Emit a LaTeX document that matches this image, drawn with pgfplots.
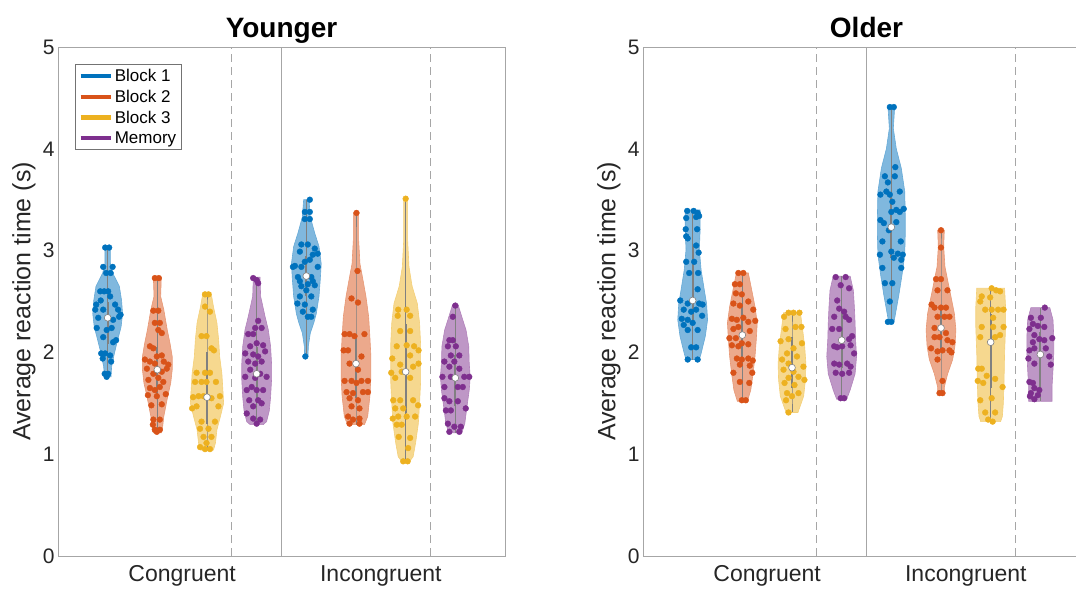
\documentclass[border=0pt]{standalone}
\usepackage{fontspec}
\setmainfont{Liberation Sans}
\usepackage{pgfplots}
\usepackage{pgfplotstable}
\pgfplotsset{compat=1.18}

\definecolor{bOne}{HTML}{0072BD}
\definecolor{bTwo}{HTML}{D95319}
\definecolor{bThree}{HTML}{EDB120}
\definecolor{bMem}{HTML}{7E2F8E}
\definecolor{boxGray}{HTML}{808080}
\definecolor{axGray}{HTML}{A6A6A6}
\definecolor{txt}{HTML}{262626}

% ---------- violin outlines (y, half width) and jittered points (dx, y) ----------
% Younger, congruent
\pgfplotstableread[row sep=\\]{y w\\ 3.04 0\\ 3.04 0.054\\ 2.875 0.054\\ 2.78 0.10\\ 2.65 0.235\\ 2.51 0.28\\ 2.38 0.30\\ 2.25 0.27\\ 2.12 0.20\\ 1.99 0.135\\ 1.86 0.08\\ 1.76 0.067\\ 1.76 0\\}\yconAs
\pgfplotstableread[row sep=\\]{d y\\ -0.05 3.03\\ 0.03 3.03\\ -0.09 2.84\\ 0.10 2.84\\ -0.03 2.78\\ 0.06 2.78\\ -0.15 2.60\\ -0.07 2.60\\ 0.01 2.60\\ -0.23 2.47\\ -0.14 2.51\\ 0.05 2.55\\ 0.15 2.47\\ 0.21 2.42\\ 0.26 2.37\\ -0.25 2.42\\ -0.09 2.42\\ -0.19 2.34\\ 0.11 2.32\\ 0.23 2.35\\ -0.22 2.24\\ 0.08 2.24\\ -0.02 2.22\\ -0.09 2.15\\ 0.11 2.10\\ 0.17 2.12\\ -0.13 1.99\\ -0.05 1.99\\ 0.05 1.97\\ -0.10 1.94\\ 0.07 1.91\\ -0.06 1.79\\ 0.01 1.79\\ -0.02 1.76\\}\yconAp
\pgfplotstableread[row sep=\\]{y w\\ 2.74 0\\ 2.74 0.08\\ 2.55 0.067\\ 2.42 0.13\\ 2.22 0.20\\ 2.09 0.255\\ 1.96 0.30\\ 1.83 0.30\\ 1.70 0.27\\ 1.57 0.21\\ 1.37 0.13\\ 1.24 0.10\\ 1.21 0.08\\ 1.21 0\\}\yconBs
\pgfplotstableread[row sep=\\]{d y\\ -0.05 2.73\\ 0.03 2.73\\ -0.08 2.41\\ 0.02 2.41\\ -0.05 2.29\\ 0.05 2.29\\ 0.02 2.22\\ 0.09 2.19\\ -0.15 2.06\\ -0.08 2.04\\ 0.09 1.97\\ -0.01 1.96\\ -0.25 1.93\\ -0.15 1.91\\ -0.05 1.89\\ 0.13 1.91\\ 0.22 1.88\\ -0.21 1.84\\ -0.08 1.79\\ 0.09 1.81\\ 0.19 1.84\\ -0.18 1.73\\ 0.02 1.75\\ 0.12 1.71\\ -0.15 1.65\\ -0.05 1.63\\ 0.05 1.66\\ 0.17 1.59\\ -0.19 1.58\\ -0.01 1.57\\ -0.12 1.48\\ 0.09 1.49\\ -0.08 1.34\\ 0.05 1.34\\ -0.09 1.29\\ -0.05 1.24\\ 0.05 1.24\\ -0.01 1.22\\}\yconBp
\pgfplotstableread[row sep=\\]{y w\\ 2.59 0\\ 2.59 0.08\\ 2.45 0.13\\ 2.29 0.20\\ 2.12 0.235\\ 1.96 0.255\\ 1.79 0.30\\ 1.63 0.32\\ 1.50 0.335\\ 1.37 0.27\\ 1.24 0.20\\ 1.11 0.17\\ 1.04 0.13\\ 1.04 0\\}\yconCs
\pgfplotstableread[row sep=\\]{d y\\ -0.04 2.57\\ 0.03 2.57\\ -0.04 2.45\\ 0.06 2.40\\ -0.11 2.16\\ -0.01 2.16\\ 0.09 2.04\\ 0.14 2.02\\ -0.21 1.80\\ -0.04 1.80\\ 0.06 1.80\\ -0.24 1.71\\ -0.11 1.71\\ -0.01 1.71\\ 0.18 1.71\\ -0.17 1.57\\ -0.07 1.57\\ -0.28 1.56\\ 0.09 1.55\\ 0.26 1.57\\ -0.30 1.45\\ -0.21 1.47\\ 0.23 1.47\\ -0.11 1.32\\ 0.16 1.32\\ -0.14 1.25\\ 0.03 1.25\\ -0.07 1.17\\ 0.09 1.17\\ -0.01 1.11\\ -0.14 1.07\\ -0.04 1.05\\ 0.06 1.05\\}\yconCp
\pgfplotstableread[row sep=\\]{y w\\ 2.74 0\\ 2.74 0.067\\ 2.55 0.08\\ 2.35 0.17\\ 2.22 0.235\\ 2.06 0.28\\ 1.89 0.30\\ 1.73 0.30\\ 1.56 0.28\\ 1.43 0.255\\ 1.32 0.20\\ 1.29 0.13\\ 1.29 0\\}\yconMs
\pgfplotstableread[row sep=\\]{d y\\ -0.07 2.73\\ 0.00 2.71\\ 0.03 2.68\\ 0.03 2.31\\ -0.03 2.24\\ 0.10 2.24\\ -0.17 2.18\\ -0.07 2.18\\ 0.00 2.09\\ 0.13 2.07\\ -0.13 2.06\\ -0.23 1.99\\ -0.07 1.98\\ 0.03 1.96\\ 0.17 2.01\\ -0.17 1.91\\ -0.03 1.89\\ 0.10 1.91\\ -0.13 1.83\\ -0.23 1.76\\ -0.03 1.75\\ 0.07 1.79\\ 0.20 1.76\\ -0.10 1.66\\ -0.20 1.63\\ 0.00 1.63\\ 0.13 1.63\\ -0.15 1.53\\ 0.03 1.53\\ 0.10 1.50\\ -0.07 1.47\\ -0.20 1.40\\ -0.07 1.35\\ 0.07 1.34\\ 0.00 1.30\\}\yconMp
% Younger, incongruent
\pgfplotstableread[row sep=\\]{y w\\ 3.50 0\\ 3.50 0.054\\ 3.33 0.08\\ 3.17 0.17\\ 3.04 0.255\\ 2.87 0.30\\ 2.71 0.28\\ 2.55 0.255\\ 2.38 0.20\\ 2.29 0.15\\ 2.19 0.08\\ 2.06 0.04\\ 1.96 0.034\\ 1.96 0\\}\yincAs
\pgfplotstableread[row sep=\\]{d y\\ 0.07 3.50\\ -0.03 3.38\\ 0.07 3.38\\ -0.03 3.31\\ 0.07 3.31\\ -0.10 3.06\\ 0.03 3.06\\ 0.17 3.02\\ -0.13 2.99\\ 0.13 2.96\\ 0.23 2.97\\ 0.07 2.91\\ -0.03 2.89\\ -0.23 2.85\\ -0.10 2.84\\ 0.23 2.84\\ -0.27 2.84\\ -0.17 2.74\\ 0.10 2.74\\ -0.13 2.70\\ 0.03 2.67\\ 0.13 2.70\\ 0.17 2.66\\ -0.10 2.65\\ 0.00 2.61\\ -0.13 2.55\\ 0.10 2.55\\ -0.18 2.48\\ -0.03 2.47\\ 0.13 2.42\\ -0.07 2.40\\ 0.03 2.35\\ 0.10 2.35\\ -0.02 1.96\\}\yincAp
\pgfplotstableread[row sep=\\]{y w\\ 3.37 0\\ 3.37 0.054\\ 3.10 0.054\\ 2.87 0.08\\ 2.74 0.13\\ 2.55 0.20\\ 2.35 0.255\\ 2.15 0.28\\ 1.96 0.30\\ 1.76 0.30\\ 1.57 0.28\\ 1.37 0.235\\ 1.29 0.17\\ 1.29 0\\}\yincBs
\pgfplotstableread[row sep=\\]{d y\\ 0.01 3.37\\ 0.03 2.80\\ -0.09 2.53\\ 0.04 2.49\\ -0.23 2.18\\ -0.13 2.18\\ -0.03 2.16\\ 0.17 2.18\\ -0.25 2.02\\ -0.16 2.02\\ 0.11 1.96\\ -0.13 1.89\\ 0.04 1.83\\ -0.23 1.72\\ -0.09 1.72\\ 0.11 1.72\\ 0.24 1.72\\ 0.01 1.70\\ -0.19 1.61\\ 0.14 1.61\\ 0.24 1.61\\ -0.06 1.60\\ -0.13 1.55\\ 0.04 1.53\\ -0.09 1.47\\ 0.07 1.45\\ -0.16 1.37\\ -0.06 1.34\\ 0.07 1.35\\ -0.13 1.30\\ 0.07 1.30\\}\yincBp
\pgfplotstableread[row sep=\\]{y w\\ 3.51 0\\ 3.51 0.04\\ 3.10 0.04\\ 2.84 0.067\\ 2.65 0.13\\ 2.48 0.235\\ 2.29 0.28\\ 2.09 0.30\\ 1.89 0.30\\ 1.70 0.30\\ 1.50 0.28\\ 1.30 0.255\\ 1.11 0.20\\ 0.975 0.15\\ 0.93 0.08\\ 0.93 0\\}\yincCs
\pgfplotstableread[row sep=\\]{d y\\ 0.00 3.51\\ -0.15 2.42\\ 0.02 2.42\\ 0.09 2.36\\ -0.16 2.36\\ 0.09 2.21\\ -0.11 2.21\\ -0.18 2.06\\ 0.02 2.07\\ 0.17 2.06\\ 0.26 2.02\\ 0.09 1.97\\ -0.27 1.94\\ -0.11 1.88\\ 0.26 1.89\\ -0.29 1.80\\ -0.08 1.81\\ 0.15 1.86\\ -0.21 1.75\\ 0.09 1.75\\ -0.25 1.53\\ -0.11 1.53\\ 0.15 1.53\\ 0.25 1.48\\ -0.21 1.45\\ -0.05 1.45\\ -0.15 1.37\\ -0.26 1.35\\ 0.02 1.37\\ 0.19 1.37\\ -0.18 1.29\\ -0.08 1.29\\ -0.14 1.17\\ 0.09 1.16\\ 0.05 1.06\\ -0.05 0.93\\ 0.04 0.93\\}\yincCp
\pgfplotstableread[row sep=\\]{y w\\ 2.47 0\\ 2.47 0.054\\ 2.35 0.13\\ 2.22 0.215\\ 2.06 0.27\\ 1.89 0.28\\ 1.76 0.30\\ 1.63 0.28\\ 1.47 0.235\\ 1.30 0.19\\ 1.21 0.13\\ 1.21 0\\}\yincMs
\pgfplotstableread[row sep=\\]{d y\\ 0.00 2.46\\ -0.05 2.35\\ -0.12 2.12\\ -0.05 2.12\\ -0.15 2.06\\ 0.01 2.06\\ -0.09 1.97\\ 0.08 1.97\\ -0.22 1.91\\ -0.02 1.91\\ -0.12 1.86\\ 0.08 1.84\\ -0.26 1.76\\ -0.09 1.76\\ 0.18 1.76\\ 0.28 1.76\\ -0.22 1.66\\ 0.05 1.66\\ 0.15 1.66\\ -0.22 1.55\\ -0.12 1.52\\ 0.05 1.52\\ -0.19 1.43\\ -0.09 1.43\\ 0.21 1.45\\ -0.15 1.30\\ -0.02 1.27\\ 0.11 1.27\\ -0.12 1.22\\ 0.08 1.22\\}\yincMp
% Older, congruent
\pgfplotstableread[row sep=\\]{y w\\ 3.40 0\\ 3.40 0.15\\ 3.20 0.15\\ 3.01 0.134\\ 2.81 0.17\\ 2.61 0.235\\ 2.48 0.28\\ 2.32 0.30\\ 2.16 0.255\\ 1.99 0.17\\ 1.93 0.134\\ 1.93 0\\}\oconAs
\pgfplotstableread[row sep=\\]{d y\\ -0.11 3.39\\ 0.02 3.39\\ 0.10 3.37\\ 0.13 3.34\\ -0.13 3.32\\ 0.07 3.33\\ -0.14 3.21\\ 0.09 3.21\\ -0.13 3.14\\ -0.10 3.12\\ 0.07 3.05\\ 0.12 2.98\\ -0.13 2.89\\ 0.03 2.89\\ -0.07 2.78\\ 0.11 2.78\\ 0.10 2.62\\ -0.25 2.51\\ -0.10 2.48\\ 0.13 2.48\\ 0.20 2.47\\ -0.18 2.42\\ -0.03 2.40\\ 0.07 2.42\\ -0.22 2.33\\ -0.10 2.32\\ 0.19 2.36\\ -0.18 2.27\\ 0.00 2.29\\ -0.10 2.22\\ 0.10 2.22\\ -0.03 2.05\\ 0.07 2.05\\ -0.10 1.93\\ 0.10 1.93\\}\oconAp
\pgfplotstableread[row sep=\\]{y w\\ 2.78 0\\ 2.78 0.12\\ 2.61 0.19\\ 2.45 0.255\\ 2.29 0.30\\ 2.12 0.28\\ 1.96 0.255\\ 1.79 0.215\\ 1.63 0.17\\ 1.52 0.10\\ 1.52 0\\}\oconBs
\pgfplotstableread[row sep=\\]{d y\\ -0.08 2.78\\ 0.02 2.78\\ -0.15 2.67\\ -0.05 2.67\\ -0.13 2.58\\ -0.01 2.57\\ 0.12 2.50\\ -0.18 2.48\\ -0.05 2.46\\ 0.22 2.42\\ -0.21 2.33\\ -0.11 2.32\\ 0.02 2.34\\ 0.12 2.30\\ 0.26 2.31\\ -0.18 2.23\\ -0.08 2.25\\ 0.15 2.21\\ -0.26 2.14\\ -0.13 2.14\\ -0.01 2.09\\ -0.21 2.07\\ -0.08 2.06\\ 0.12 2.08\\ -0.11 1.94\\ -0.01 1.93\\ 0.12 1.94\\ 0.21 1.92\\ -0.05 1.88\\ 0.15 1.87\\ -0.18 1.80\\ 0.20 1.80\\ -0.05 1.71\\ 0.14 1.70\\ -0.01 1.53\\ 0.07 1.53\\}\oconBp
\pgfplotstableread[row sep=\\]{y w\\ 2.39 0\\ 2.39 0.17\\ 2.22 0.215\\ 2.06 0.255\\ 1.89 0.28\\ 1.73 0.27\\ 1.57 0.235\\ 1.41 0.12\\ 1.41 0\\}\oconCs
\pgfplotstableread[row sep=\\]{d y\\ -0.07 2.39\\ 0.03 2.39\\ 0.15 2.39\\ -0.16 2.35\\ 0.19 2.25\\ 0.07 2.25\\ -0.13 2.23\\ -0.23 2.11\\ -0.07 2.13\\ 0.20 2.09\\ 0.03 2.04\\ -0.10 1.99\\ 0.10 1.96\\ -0.20 1.93\\ -0.07 1.89\\ 0.23 1.86\\ -0.17 1.83\\ 0.03 1.81\\ 0.13 1.76\\ -0.07 1.75\\ 0.25 1.73\\ -0.15 1.70\\ 0.05 1.68\\ 0.13 1.60\\ -0.10 1.60\\ 0.00 1.57\\ -0.12 1.53\\ -0.07 1.41\\}\oconCp
\pgfplotstableread[row sep=\\]{y w\\ 2.75 0\\ 2.75 0.17\\ 2.61 0.235\\ 2.45 0.255\\ 2.29 0.27\\ 2.12 0.28\\ 1.96 0.30\\ 1.79 0.27\\ 1.63 0.17\\ 1.54 0.10\\ 1.54 0\\}\oconMs
\pgfplotstableread[row sep=\\]{d y\\ -0.12 2.74\\ 0.08 2.74\\ -0.02 2.66\\ 0.15 2.63\\ -0.09 2.51\\ -0.05 2.43\\ 0.05 2.40\\ -0.15 2.35\\ 0.08 2.35\\ 0.15 2.32\\ -0.19 2.23\\ -0.05 2.23\\ 0.21 2.16\\ 0.15 2.13\\ -0.15 2.06\\ -0.09 2.05\\ 0.01 2.06\\ 0.18 2.07\\ 0.25 1.99\\ -0.15 1.89\\ -0.05 1.88\\ 0.11 1.89\\ 0.18 1.86\\ -0.12 1.80\\ 0.01 1.79\\ 0.15 1.80\\ -0.02 1.55\\ 0.05 1.55\\}\oconMp
% Older, incongruent
\pgfplotstableread[row sep=\\]{y w\\ 4.41 0\\ 4.41 0.067\\ 4.20 0.04\\ 4.00 0.10\\ 3.81 0.20\\ 3.58 0.27\\ 3.35 0.28\\ 3.15 0.28\\ 2.96 0.27\\ 2.76 0.215\\ 2.56 0.15\\ 2.37 0.08\\ 2.30 0.054\\ 2.30 0\\}\oincAs
\pgfplotstableread[row sep=\\]{d y\\ -0.03 4.41\\ 0.05 4.41\\ 0.08 3.82\\ -0.13 3.73\\ 0.07 3.73\\ -0.07 3.67\\ -0.22 3.55\\ -0.10 3.58\\ -0.03 3.55\\ 0.17 3.58\\ 0.02 3.48\\ 0.00 3.38\\ 0.10 3.40\\ 0.17 3.38\\ 0.25 3.41\\ -0.22 3.30\\ -0.15 3.27\\ -0.05 3.20\\ 0.10 3.28\\ -0.18 3.09\\ 0.19 3.09\\ -0.23 2.96\\ 0.00 2.99\\ 0.13 2.97\\ 0.23 2.96\\ 0.05 2.93\\ 0.20 2.91\\ -0.18 2.83\\ 0.20 2.83\\ -0.13 2.68\\ 0.02 2.68\\ -0.03 2.50\\ -0.07 2.30\\ 0.00 2.30\\}\oincAp
\pgfplotstableread[row sep=\\]{y w\\ 3.20 0\\ 3.20 0.067\\ 3.04 0.054\\ 2.84 0.08\\ 2.71 0.134\\ 2.55 0.20\\ 2.38 0.27\\ 2.22 0.30\\ 2.06 0.28\\ 1.93 0.235\\ 1.79 0.134\\ 1.66 0.067\\ 1.60 0.067\\ 1.60 0\\}\oincBs
\pgfplotstableread[row sep=\\]{d y\\ 0.00 3.20\\ 0.00 3.03\\ -0.10 2.72\\ 0.00 2.72\\ -0.07 2.61\\ 0.13 2.61\\ -0.19 2.47\\ -0.13 2.44\\ 0.00 2.44\\ 0.10 2.44\\ -0.07 2.35\\ 0.07 2.35\\ 0.17 2.35\\ -0.13 2.24\\ 0.10 2.19\\ -0.13 2.15\\ -0.03 2.15\\ 0.13 2.12\\ 0.23 2.10\\ -0.20 2.04\\ -0.07 2.01\\ 0.03 2.02\\ 0.17 2.02\\ -0.07 1.93\\ 0.21 2.00\\ 0.03 1.72\\ -0.03 1.60\\ 0.03 1.60\\}\oincBp
\pgfplotstableread[row sep=\\]{y w\\ 2.63 0\\ 2.63 0.28\\ 2.45 0.30\\ 2.25 0.30\\ 1.99 0.28\\ 1.73 0.27\\ 1.50 0.255\\ 1.37 0.235\\ 1.32 0.20\\ 1.32 0\\}\oincCs
\pgfplotstableread[row sep=\\]{d y\\ 0.02 2.63\\ 0.11 2.61\\ -0.18 2.55\\ -0.01 2.54\\ 0.19 2.60\\ -0.21 2.50\\ -0.11 2.42\\ 0.02 2.42\\ 0.15 2.42\\ 0.26 2.42\\ 0.05 2.34\\ 0.26 2.25\\ -0.18 2.25\\ 0.05 2.25\\ 0.19 2.17\\ -0.21 2.15\\ 0.09 2.15\\ -0.18 1.84\\ -0.25 1.84\\ -0.08 1.77\\ 0.09 1.74\\ -0.26 1.72\\ -0.15 1.70\\ 0.24 1.66\\ -0.21 1.53\\ 0.02 1.55\\ -0.11 1.41\\ 0.09 1.41\\ -0.05 1.34\\ 0.04 1.32\\}\oincCp
\pgfplotstableread[row sep=\\]{y w\\ 2.44 0\\ 2.44 0.19\\ 2.32 0.255\\ 2.16 0.27\\ 1.99 0.27\\ 1.83 0.255\\ 1.66 0.235\\ 1.52 0.235\\ 1.52 0\\}\oincMs
\pgfplotstableread[row sep=\\]{d y\\ 0.09 2.44\\ -0.19 2.34\\ 0.01 2.34\\ -0.15 2.28\\ -0.05 2.26\\ 0.08 2.25\\ -0.22 2.23\\ -0.12 2.17\\ -0.02 2.13\\ -0.15 2.10\\ 0.08 2.12\\ 0.24 2.14\\ -0.22 2.02\\ -0.12 2.04\\ 0.11 2.04\\ -0.24 1.94\\ 0.18 1.96\\ -0.12 1.89\\ 0.21 1.88\\ -0.22 1.71\\ -0.15 1.70\\ -0.12 1.65\\ -0.02 1.63\\ -0.19 1.60\\ -0.21 1.57\\ -0.12 1.54\\ -0.05 1.58\\}\oincMp

% #1 position, #2 colour, #3 outline, #4 points, #5 median, #6 q1, #7 q3
\newcommand{\violin}[7]{%
  \addplot[forget plot, draw=#2!60!white, line width=0.6pt, fill=#2!50!white]
    table[x expr=#1+\thisrow{w}, y=y] {#3};
  \addplot[forget plot, draw=#2!60!white, line width=0.6pt, fill=#2!50!white]
    table[x expr=#1-\thisrow{w}, y=y] {#3};
  \addplot[forget plot, only marks, mark=*, mark size=2.9pt,
    mark options={draw=#2, fill=#2}]
    table[x expr=#1+\thisrow{d}, y=y] {#4};
  \addplot[forget plot, draw=boxGray, line width=0.8pt] table[x expr=#1, y=y] {#3};
  \addplot[forget plot, draw=boxGray, line width=2.2pt] coordinates {(#1,#6) (#1,#7)};
  \addplot[forget plot, only marks, mark=*, mark size=3.4pt,
    mark options={draw=boxGray, fill=white, line width=0.6pt}] coordinates {(#1,#5)};
}

\newcommand{\separators}{%
  \addplot[forget plot, draw=axGray, line width=0.8pt, dash pattern=on 8pt off 5pt]
    coordinates {(3.5,0) (3.5,5)};
  \addplot[forget plot, draw=axGray, line width=0.8pt, dash pattern=on 8pt off 5pt]
    coordinates {(7.5,0) (7.5,5)};
  \addplot[forget plot, draw=axGray, line width=0.8pt] coordinates {(4.5,0) (4.5,5)};
}

\pgfplotsset{
  panel/.style={
    width=447pt, height=509pt, scale only axis,
    xmin=0, xmax=9, ymin=0, ymax=5,
    xtick={2.5,6.5}, xticklabels={Congruent,Incongruent},
    ytick={0,1,2,3,4,5},
    major tick length=0pt,
    axis line style={draw=axGray, line width=0.8pt},
    /pgf/number format/assume math mode=true,
    xticklabel style={font=\fontsize{23}{27}\selectfont, text=txt, yshift=-6pt},
    yticklabel style={font=\fontsize{21}{25}\selectfont, text=txt},
    ylabel={Average reaction time (s)},
    every axis y label/.style={at={(axis description cs:-0.076,0.5)}, rotate=90, anchor=center},
    ylabel style={font=\fontsize{25}{30}\selectfont, text=txt},
    every axis title/.style={at={(axis description cs:0.5,1)}, anchor=base, yshift=10pt},
    title style={font=\fontsize{28}{32}\selectfont\bfseries},
  }
}

\begin{document}
\begin{tikzpicture}
  \path[use as bounding box] (0pt,0pt) rectangle (1076pt,590pt);

  \begin{axis}[
    panel, at={(58pt,34pt)}, anchor=south west,
    title={Younger},
    legend image code/.code={\draw[#1] (0pt,0pt) -- (30pt,0pt);},
    legend style={at={(axis description cs:0.038,0.967)}, anchor=north west,
      draw=black!55, line width=0.6pt, fill=white,
      font=\fontsize{17}{19}\selectfont, inner xsep=3pt, inner ysep=3pt,
      row sep=3pt, cells={anchor=west}}
  ]
    \separators
    \violin{1}{bOne}{\yconAs}{\yconAp}{2.34}{2.08}{2.50}
    \violin{2}{bTwo}{\yconBs}{\yconBp}{1.83}{1.57}{2.05}
    \violin{3}{bThree}{\yconCs}{\yconCp}{1.56}{1.30}{2.00}
    \violin{4}{bMem}{\yconMs}{\yconMp}{1.79}{1.55}{2.05}
    \violin{5}{bOne}{\yincAs}{\yincAp}{2.75}{2.55}{2.95}
    \violin{6}{bTwo}{\yincBs}{\yincBp}{1.89}{1.55}{2.18}
    \violin{7}{bThree}{\yincCs}{\yincCp}{1.81}{1.40}{2.28}
    \violin{8}{bMem}{\yincMs}{\yincMp}{1.75}{1.47}{1.97}
    \addlegendimage{draw=bOne, line width=4.5pt}
    \addlegendentry{Block 1}
    \addlegendimage{draw=bTwo, line width=4.5pt}
    \addlegendentry{Block 2}
    \addlegendimage{draw=bThree, line width=4.5pt}
    \addlegendentry{Block 3}
    \addlegendimage{draw=bMem, line width=4.5pt}
    \addlegendentry{Memory}
  \end{axis}

  \begin{axis}[
    panel, at={(643pt,34pt)}, anchor=south west,
    title={Older}
  ]
    \separators
    \violin{1}{bOne}{\oconAs}{\oconAp}{2.51}{2.30}{3.05}
    \violin{2}{bTwo}{\oconBs}{\oconBp}{2.17}{1.92}{2.45}
    \violin{3}{bThree}{\oconCs}{\oconCp}{1.85}{1.65}{2.15}
    \violin{4}{bMem}{\oconMs}{\oconMp}{2.12}{1.85}{2.40}
    \violin{5}{bOne}{\oincAs}{\oincAp}{3.23}{2.93}{3.55}
    \violin{6}{bTwo}{\oincBs}{\oincBp}{2.24}{2.02}{2.45}
    \violin{7}{bThree}{\oincCs}{\oincCp}{2.10}{1.65}{2.38}
    \violin{8}{bMem}{\oincMs}{\oincMp}{1.98}{1.62}{2.20}
  \end{axis}
\end{tikzpicture}
\end{document}
